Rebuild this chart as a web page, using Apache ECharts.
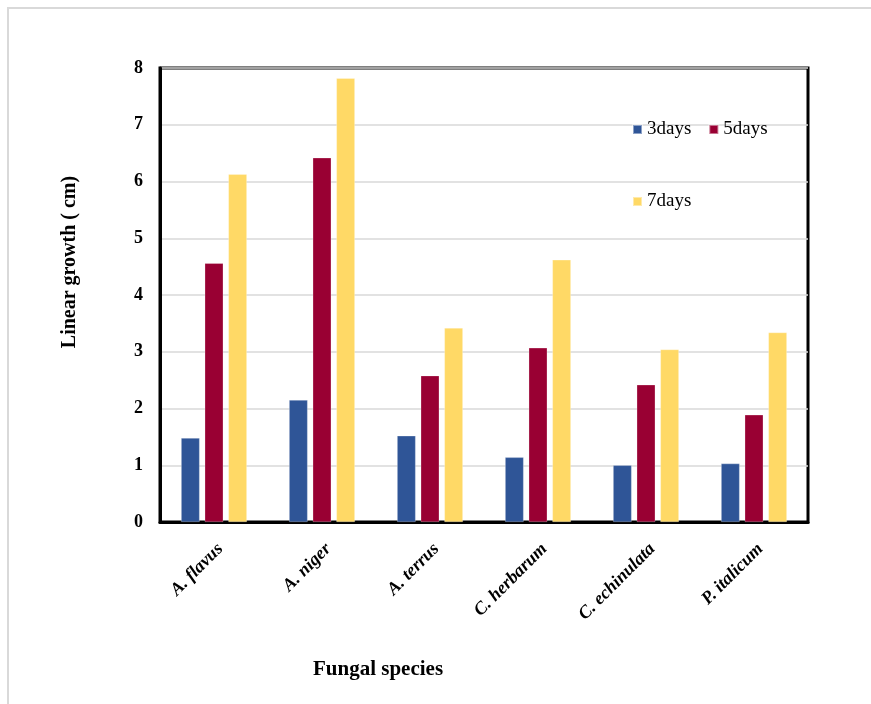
<!DOCTYPE html>
<html>
<head>
<meta charset="utf-8">
<script src="https://cdn.jsdelivr.net/npm/echarts@6/dist/echarts.min.js"></script>
<style>
  html, body { margin: 0; padding: 0; background: #fff; }
  #wrap { position: relative; width: 871px; height: 704px; overflow: hidden; }
  #chart { position: absolute; left: 0; top: 0; width: 871px; height: 704px; }
  #frame { position: absolute; left: 7px; top: 7px; width: 900px; height: 740px;
           border-left: 2px solid #d9d9d9; border-top: 2px solid #d9d9d9; pointer-events: none; }
</style>
</head>
<body>
<div id="wrap">
  <div id="chart"></div>
  <div id="frame"></div>
</div>
<script>
// Fungal linear growth (cm) after 3, 5 and 7 days of incubation
const species = ['A. flavus', 'A. niger', 'A. terrus', 'C. herbarum', 'C. echinulata', 'P. italicum'];
const days3 = [1.48, 2.15, 1.52, 1.14, 1.00, 1.03];
const days5 = [4.56, 6.42, 2.58, 3.07, 2.42, 1.89];
const days7 = [6.13, 7.82, 3.42, 4.62, 3.04, 3.34];
const seriesNames = ['3days', '5days', '7days'];
const seriesColors = ['#2F5597', '#990033', '#FFD966'];
const yTicks = { min: 0, max: 8, step: 1 };

const serif = '"Liberation Serif", "Times New Roman", serif';

const chart = echarts.init(document.getElementById('chart'));

const makeBar = (name, data, color) => ({
  name: name,
  type: 'bar',
  data: data,
  barGap: '27%',
  barCategoryGap: '39%',
  itemStyle: { color: color, borderColor: 'rgba(255,255,255,0.45)', borderWidth: 0.6 }
});

const legendText = { fontFamily: serif, fontSize: 19, color: '#000' };

chart.setOption({
  animation: false,
  backgroundColor: '#fff',
  grid: {
    left: 160, right: 63, top: 68, bottom: 182,
    show: true, borderColor: '#000', borderWidth: 3, backgroundColor: 'transparent'
  },
  title: {
    text: 'Fungal species',
    left: 313, top: 659, padding: 0,
    textStyle: { fontFamily: serif, fontSize: 21, fontWeight: 'bold', color: '#000' }
  },
  legend: [
    {
      data: [seriesNames[0], seriesNames[1]],
      left: 627, top: 115,
      itemWidth: 9, itemHeight: 9, itemGap: 17,
      icon: 'rect',
      textStyle: legendText
    },
    {
      data: [seriesNames[2]],
      left: 627, top: 187,
      itemWidth: 9, itemHeight: 9,
      icon: 'rect',
      textStyle: legendText
    }
  ],
  xAxis: {
    type: 'category',
    data: species,
    axisLine: { show: true, lineStyle: { color: '#000', width: 3 } },
    axisTick: { show: false },
    axisLabel: {
      interval: 0,
      rotate: 45,
      margin: 18,
      align: 'right',
      verticalAlign: 'top',
      fontFamily: serif,
      fontSize: 18,
      fontWeight: 'bold',
      fontStyle: 'italic',
      color: '#000'
    }
  },
  yAxis: {
    type: 'value',
    min: yTicks.min,
    max: yTicks.max,
    interval: yTicks.step,
    name: 'Linear growth ( cm)',
    nameLocation: 'middle',
    nameGap: 80,
    nameTextStyle: {
      fontFamily: serif, fontSize: 20, fontWeight: 'bold', color: '#000',
      padding: [0, 0, 0, 66]
    },
    axisLine: { show: true, lineStyle: { color: '#000', width: 3 } },
    axisTick: { show: false },
    axisLabel: { margin: 17, fontFamily: serif, fontSize: 18, fontWeight: 'bold', color: '#000' },
    splitLine: { show: true, lineStyle: { color: '#d9d9d9', width: 1.5 } }
  },
  series: [
    makeBar(seriesNames[0], days3, seriesColors[0]),
    makeBar(seriesNames[1], days5, seriesColors[1]),
    makeBar(seriesNames[2], days7, seriesColors[2])
  ]
});
</script>
</body>
</html>
